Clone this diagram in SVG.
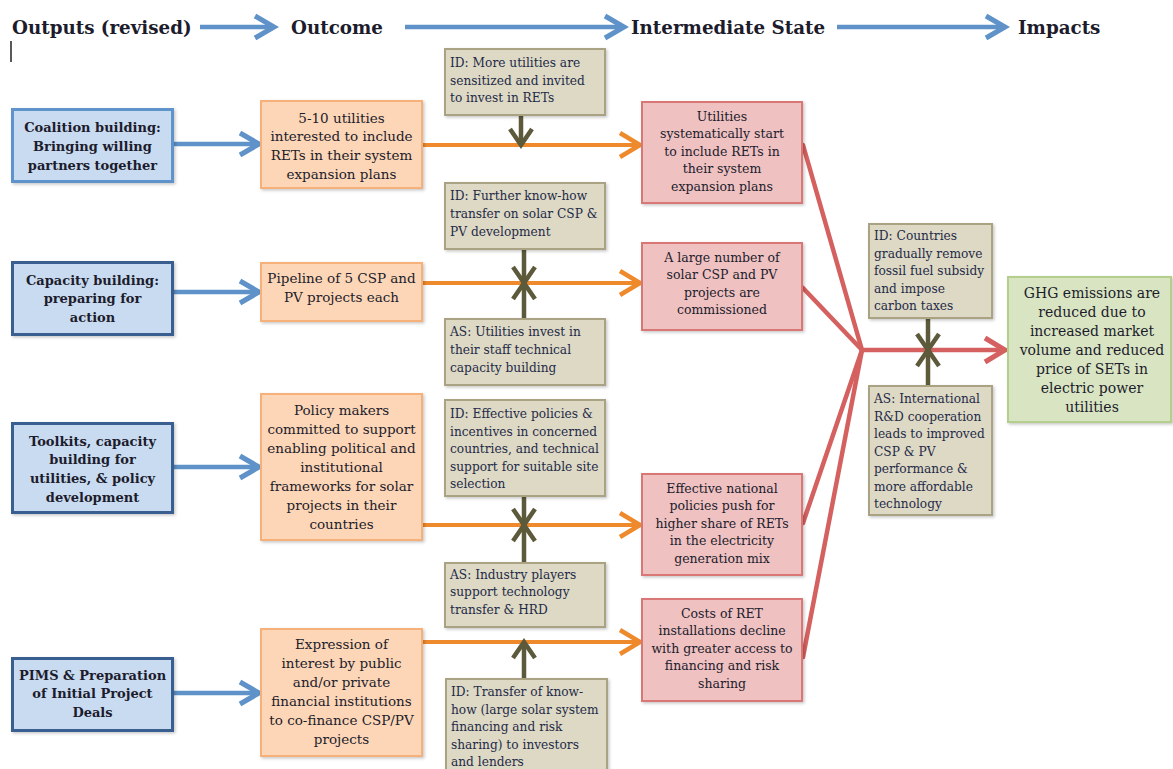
<svg xmlns="http://www.w3.org/2000/svg" width="1173" height="769" viewBox="0 0 1173 769">
<style>
text{font-family:"DejaVu Serif","Liberation Serif",serif;fill:#1c1c2c}
.hd{font-size:18.3px;font-weight:bold}
.bt{font-size:13px;font-weight:bold;text-anchor:middle}
.ot{font-size:13.5px;text-anchor:middle}
.gt{font-size:12.2px;fill:#1f2a48}
.rt{font-size:12.5px;text-anchor:middle}
.et{font-size:14px;text-anchor:middle}
.bb{fill:#c9dbf1;stroke:#385f8f;stroke-width:3;filter:url(#sh)}
.ob{fill:#fcd6b6;stroke:#f6b07a;stroke-width:2;filter:url(#sh)}
.gb{fill:#ddd9c4;stroke:#aaa383;stroke-width:2;filter:url(#sh)}
.rb{fill:#efc1c1;stroke:#d97676;stroke-width:2;filter:url(#sh)}
.eb{fill:#d9e5c2;stroke:#b3cf8b;stroke-width:2;filter:url(#sh)}
.ba{stroke:#5e92c8;stroke-width:4.5;fill:none;marker-end:url(#mb)}
.oa{stroke:#ee8a2c;stroke-width:4;fill:none;marker-end:url(#mo)}
.ga{stroke:#5d5a3b;stroke-width:4.5;fill:none;marker-end:url(#mg)}
.ra{stroke:#d4615f;stroke-width:4.5;fill:none;stroke-linecap:round}
</style>
<defs>
<filter id="sh" x="-10%" y="-10%" width="125%" height="125%">
<feDropShadow dx="1.5" dy="1.5" stdDeviation="1.5" flood-color="#000" flood-opacity="0.22"/>
</filter>
<marker id="mb" markerUnits="userSpaceOnUse" viewBox="-5 -5 32 32" refX="20" refY="11" markerWidth="32" markerHeight="32" orient="auto">
<path d="M1,0 L20,11 L1,22" fill="none" stroke="#5e92c8" stroke-width="5"/>
</marker>
<marker id="mo" markerUnits="userSpaceOnUse" viewBox="-5 -5 32 32" refX="20" refY="11" markerWidth="32" markerHeight="32" orient="auto">
<path d="M0,-1 L20,11 L0,23" fill="none" stroke="#ee8a2c" stroke-width="4.5"/>
</marker>
<marker id="mg" markerUnits="userSpaceOnUse" viewBox="-5 -5 32 32" refX="17" refY="11" markerWidth="32" markerHeight="32" orient="auto">
<path d="M1,0 L17,11 L1,22" fill="none" stroke="#5d5a3b" stroke-width="4.5"/>
</marker>
<marker id="mr" markerUnits="userSpaceOnUse" viewBox="-5 -5 32 32" refX="20" refY="11" markerWidth="32" markerHeight="32" orient="auto">
<path d="M0,-1 L20,11 L0,23" fill="none" stroke="#d4615f" stroke-width="5"/>
</marker>
</defs>
<rect width="1173" height="769" fill="#ffffff"/>

<g id="header">
<text class="hd" x="12" y="34">Outputs (revised)</text>
<text class="hd" x="291" y="34">Outcome</text>
<text class="hd" x="631" y="34">Intermediate State</text>
<text class="hd" x="1018" y="34">Impacts</text>
<line x1="11" y1="41" x2="11" y2="62" stroke="#222" stroke-width="1.5"/>
</g>

<g id="connectors">
<line class="ba" x1="200" y1="27" x2="274" y2="27"/>
<line class="ba" x1="405" y1="27" x2="624" y2="27"/>
<line class="ba" x1="837" y1="27" x2="1005" y2="27"/>
<line class="ba" x1="174" y1="144" x2="259" y2="144"/>
<line class="ba" x1="174" y1="292" x2="259" y2="292"/>
<line class="ba" x1="174" y1="467" x2="259" y2="467"/>
<line class="ba" x1="174" y1="693" x2="259" y2="693"/>
<line class="oa" x1="423" y1="145" x2="640" y2="145"/>
<line class="oa" x1="423" y1="283" x2="640" y2="283"/>
<line class="oa" x1="423" y1="525" x2="640" y2="525"/>
<line class="oa" x1="423" y1="642" x2="640" y2="642"/>
<line class="ga" x1="521" y1="116" x2="521" y2="145"/>
<line class="ga" x1="524" y1="250" x2="524" y2="283"/>
<line class="ga" x1="524" y1="318" x2="524" y2="283"/>
<line class="ga" x1="524" y1="497" x2="524" y2="525"/>
<line class="ga" x1="524" y1="562" x2="524" y2="525"/>
<line class="ga" x1="524" y1="678" x2="524" y2="642"/>
<line class="ra" x1="803" y1="145" x2="862" y2="350"/>
<line class="ra" x1="803" y1="288" x2="862" y2="350"/>
<line class="ra" x1="803" y1="523" x2="862" y2="350"/>
<line class="ra" x1="803" y1="657" x2="862" y2="350"/>
<line class="ra" x1="862" y1="350" x2="1005" y2="350" style="stroke-linecap:butt;marker-end:url(#mr)"/>
<line class="ga" x1="928" y1="319" x2="928" y2="350"/>
<line class="ga" x1="928" y1="385" x2="928" y2="350"/>
</g>

<g id="out1">
<rect class="bb" x="12.5" y="109.5" width="160" height="72" style="stroke:#5f93cc"/>
<text class="bt" x="92.5" y="132">Coalition building:</text>
<text class="bt" x="92.5" y="151">Bringing willing</text>
<text class="bt" x="92.5" y="170">partners together</text>
</g>
<g id="out2">
<rect class="bb" x="12.5" y="262.5" width="160" height="72"/>
<text class="bt" x="92.5" y="285">Capacity building:</text>
<text class="bt" x="92.5" y="303">preparing for</text>
<text class="bt" x="92.5" y="322">action</text>
</g>
<g id="out3">
<rect class="bb" x="12.5" y="423.5" width="160" height="89"/>
<text class="bt" x="92.5" y="446">Toolkits, capacity</text>
<text class="bt" x="92.5" y="464">building for</text>
<text class="bt" x="92.5" y="483">utilities, &amp; policy</text>
<text class="bt" x="92.5" y="502">development</text>
</g>
<g id="out4">
<rect class="bb" x="12.5" y="658.5" width="160" height="72"/>
<text class="bt" x="92.5" y="680">PIMS &amp; Preparation</text>
<text class="bt" x="92.5" y="698">of Initial Project</text>
<text class="bt" x="92.5" y="717">Deals</text>
</g>

<g id="oc1">
<rect class="ob" x="261" y="101" width="161" height="87"/>
<text class="ot" x="341.5" y="122.5">5-10 utilities</text>
<text class="ot" x="341.5" y="141">interested to include</text>
<text class="ot" x="341.5" y="159.5">RETs in their system</text>
<text class="ot" x="341.5" y="178.5">expansion plans</text>
</g>
<g id="oc2">
<rect class="ob" x="261" y="263" width="161" height="58"/>
<text class="ot" x="341.5" y="282.5">Pipeline of 5 CSP and</text>
<text class="ot" x="341.5" y="301.5">PV projects each</text>
</g>
<g id="oc3">
<rect class="ob" x="261" y="394" width="161" height="146"/>
<text class="ot" x="341.5" y="414.5">Policy makers</text>
<text class="ot" x="341.5" y="433.5">committed to support</text>
<text class="ot" x="341.5" y="452.5">enabling political and</text>
<text class="ot" x="341.5" y="471.5">institutional</text>
<text class="ot" x="341.5" y="490.5">frameworks for solar</text>
<text class="ot" x="341.5" y="509.5">projects in their</text>
<text class="ot" x="341.5" y="528.5">countries</text>
</g>
<g id="oc4">
<rect class="ob" x="261" y="629" width="161" height="127"/>
<text class="ot" x="341.5" y="648.5">Expression of</text>
<text class="ot" x="341.5" y="667.5">interest by public</text>
<text class="ot" x="341.5" y="686.5">and/or private</text>
<text class="ot" x="341.5" y="705.5">financial institutions</text>
<text class="ot" x="341.5" y="724.5">to co-finance CSP/PV</text>
<text class="ot" x="341.5" y="743.5">projects</text>
</g>

<g id="as1">
<rect class="gb" x="445" y="49" width="160" height="66"/>
<text class="gt" x="450" y="67">ID: More utilities are</text>
<text class="gt" x="450" y="84.5">sensitized and invited</text>
<text class="gt" x="450" y="102">to invest in RETs</text>
</g>
<g id="as2">
<rect class="gb" x="445" y="183" width="160" height="66"/>
<text class="gt" x="450" y="200">ID: Further know-how</text>
<text class="gt" x="450" y="218">transfer on solar CSP &amp;</text>
<text class="gt" x="450" y="236">PV development</text>
</g>
<g id="as3">
<rect class="gb" x="445" y="319" width="160" height="66"/>
<text class="gt" x="450" y="336">AS: Utilities invest in</text>
<text class="gt" x="450" y="354">their staff technical</text>
<text class="gt" x="450" y="372">capacity building</text>
</g>
<g id="as4">
<rect class="gb" x="445" y="400" width="160" height="96"/>
<text class="gt" x="450" y="418">ID: Effective policies &amp;</text>
<text class="gt" x="450" y="435.5">incentives in concerned</text>
<text class="gt" x="450" y="453">countries, and technical</text>
<text class="gt" x="450" y="470.5">support for suitable site</text>
<text class="gt" x="450" y="488">selection</text>
</g>
<g id="as5">
<rect class="gb" x="445" y="563" width="160" height="64"/>
<text class="gt" x="450" y="578.5">AS: Industry players</text>
<text class="gt" x="450" y="596">support technology</text>
<text class="gt" x="450" y="613.5">transfer &amp; HRD</text>
</g>
<g id="as6">
<rect class="gb" x="446" y="679" width="161" height="100"/>
<text class="gt" x="451" y="696">ID: Transfer of know-</text>
<text class="gt" x="451" y="713.5">how (large solar system</text>
<text class="gt" x="451" y="731">financing and risk</text>
<text class="gt" x="451" y="748.5">sharing) to investors</text>
<text class="gt" x="451" y="766">and lenders</text>
</g>

<g id="is1">
<rect class="rb" x="642" y="102" width="160" height="101"/>
<text class="rt" x="722" y="120.5">Utilities</text>
<text class="rt" x="722" y="138">systematically start</text>
<text class="rt" x="722" y="155.5">to include RETs in</text>
<text class="rt" x="722" y="173">their system</text>
<text class="rt" x="722" y="190.5">expansion plans</text>
</g>
<g id="is2">
<rect class="rb" x="642" y="243" width="160" height="87"/>
<text class="rt" x="722" y="261.5">A large number of</text>
<text class="rt" x="722" y="279">solar CSP and PV</text>
<text class="rt" x="722" y="296.5">projects are</text>
<text class="rt" x="722" y="314">commissioned</text>
</g>
<g id="is3">
<rect class="rb" x="642" y="474" width="160" height="101"/>
<text class="rt" x="722" y="492.5">Effective national</text>
<text class="rt" x="722" y="510">policies push for</text>
<text class="rt" x="722" y="527.5">higher share of RETs</text>
<text class="rt" x="722" y="545">in the electricity</text>
<text class="rt" x="722" y="562.5">generation mix</text>
</g>
<g id="is4">
<rect class="rb" x="642" y="599" width="160" height="102"/>
<text class="rt" x="722" y="617.5">Costs of RET</text>
<text class="rt" x="722" y="635">installations decline</text>
<text class="rt" x="722" y="652.5">with greater access to</text>
<text class="rt" x="722" y="670">financing and risk</text>
<text class="rt" x="722" y="687.5">sharing</text>
</g>

<g id="as7">
<rect class="gb" x="869" y="224" width="123" height="94"/>
<text class="gt" x="874" y="240">ID: Countries</text>
<text class="gt" x="874" y="257.5">gradually remove</text>
<text class="gt" x="874" y="275">fossil fuel subsidy</text>
<text class="gt" x="874" y="292.5">and impose</text>
<text class="gt" x="874" y="310">carbon taxes</text>
</g>
<g id="as8">
<rect class="gb" x="869" y="386" width="123" height="129"/>
<text class="gt" x="874" y="403">AS: International</text>
<text class="gt" x="874" y="420.5">R&amp;D cooperation</text>
<text class="gt" x="874" y="438">leads to improved</text>
<text class="gt" x="874" y="455.5">CSP &amp; PV</text>
<text class="gt" x="874" y="473">performance &amp;</text>
<text class="gt" x="874" y="490.5">more affordable</text>
<text class="gt" x="874" y="508">technology</text>
</g>

<g id="impact">
<rect class="eb" x="1008" y="277" width="163" height="145"/>
<text class="et" x="1092" y="298">GHG emissions are</text>
<text class="et" x="1092" y="317">reduced due to</text>
<text class="et" x="1092" y="336">increased market</text>
<text class="et" x="1092" y="354.5">volume and reduced</text>
<text class="et" x="1092" y="373.5">price of SETs in</text>
<text class="et" x="1092" y="393">electric power</text>
<text class="et" x="1092" y="412">utilities</text>
</g>
</svg>
